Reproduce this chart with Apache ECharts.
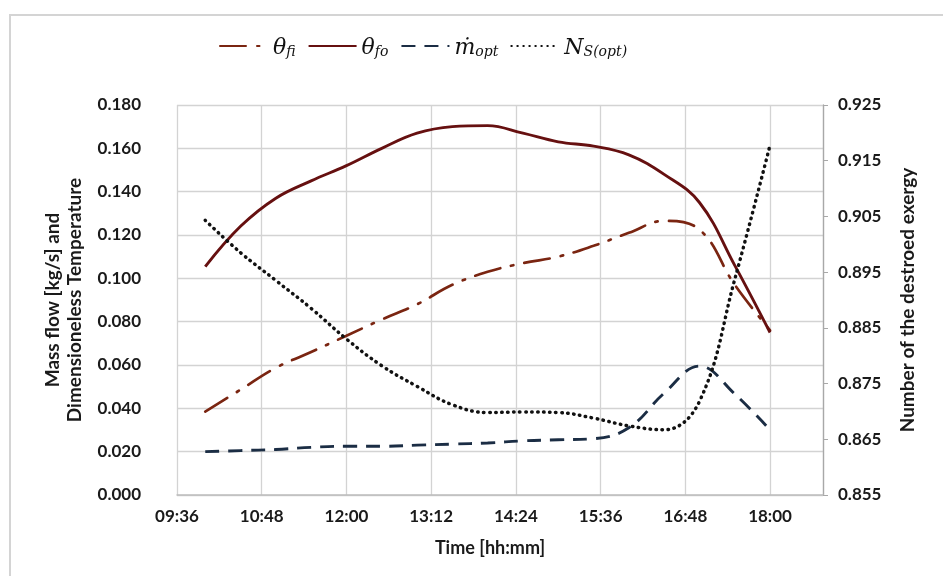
<!DOCTYPE html>
<html>
<head>
<meta charset="utf-8">
<script src="https://cdn.jsdelivr.net/npm/echarts@6/dist/echarts.min.js"></script>
<style>
  html, body { margin: 0; padding: 0; background: #ffffff; }
  #chart { width: 943px; height: 576px; }
</style>
</head>
<body>
<div id="chart"></div>
<script>
// Sampling times (every half hour, 10:00 to 18:00)
const times = ['10:00','10:30','11:00','11:30','12:00','12:30','13:00','13:30','14:00',
               '14:30','15:00','15:30','16:00','16:30','17:00','17:30','18:00'];

// Dimensionless inlet fluid temperature
const thetaFi = [0.0385,0.0486,0.0587,0.0660,0.0735,0.0810,0.0880,0.0970,0.1030,
                 0.1070,0.1100,0.1150,0.1210,0.1265,0.1225,0.0970,0.0760];
// Dimensionless outlet fluid temperature
const thetaFo = [0.1054,0.1240,0.1370,0.1450,0.1520,0.1600,0.1670,0.1700,0.1705,
                 0.1670,0.1630,0.1610,0.1570,0.1480,0.1350,0.1060,0.0750];
// Optimal mass flow [kg/s]
const mOpt = [0.0200,0.0205,0.0210,0.0220,0.0225,0.0225,0.0230,0.0235,0.0240,
              0.0250,0.0255,0.0260,0.0310,0.0470,0.0595,0.0466,0.0300];
// Number of destroyed exergy at optimum
const nsOpt = [0.9043,0.8985,0.8935,0.8885,0.8830,0.8782,0.8745,0.8712,0.8698,
               0.8699,0.8698,0.8688,0.8674,0.8667,0.8718,0.8937,0.9178];

// Axis tick settings
const timeAxisMin = '09:36';
const timeAxisMax = '18:45';
const timeTickStep = 72;          // minutes (1:12)
const leftTicks = [0.000, 0.180, 0.020];   // min, max, step
const rightTicks = [0.855, 0.925, 0.010];  // min, max, step

const seriesNames = ['θfi', 'θfo', 'ṁopt', 'NS(opt)'];

function toMin(s) {
  const p = s.split(':');
  return parseInt(p[0], 10) * 60 + parseInt(p[1], 10);
}
function fmtTime(v) {
  const h = Math.floor(v / 60), m = Math.round(v % 60);
  return String(h).padStart(2, '0') + ':' + String(m).padStart(2, '0');
}
function pairs(vals) {
  return times.map((t, i) => [toMin(t), vals[i]]);
}

const xMin = toMin(timeAxisMin);
const xMax = toMin(timeAxisMax);

const labelFont = { fontFamily: 'Lato', fontWeight: 'bold', fontSize: 17, color: '#1a1a1a' };
const titleFont = { fontFamily: 'Lato', fontWeight: 'bold', fontSize: 18, color: '#1a1a1a' };

const legendRich = {
  t: { fontFamily: 'DejaVu Serif', fontStyle: 'italic', fontSize: 22, color: '#111', lineHeight: 26, verticalAlign: 'bottom' },
  s: { fontFamily: 'DejaVu Serif', fontStyle: 'italic', fontSize: 14, color: '#111', lineHeight: 6, verticalAlign: 'bottom' }
};
const legendText = {
  'θfi': '{t|θ}{s|fi}',
  'θfo': '{t|θ}{s|fo}',
  'ṁopt': '{t|ṁ}{s|opt}',
  'NS(opt)': '{t|N}{s|S(opt)}'
};

const chart = echarts.init(document.getElementById('chart'), null, { renderer: 'canvas' });

chart.setOption({
  backgroundColor: '#ffffff',
  animation: false,
  graphic: [{
    type: 'rect',
    shape: { x: 10, y: 15, width: 1000, height: 1000 },
    style: { fill: 'none', stroke: '#d4d4d4', lineWidth: 2 },
    silent: true
  }],
  legend: {
    data: seriesNames,
    left: 214,
    top: 32,
    itemWidth: 48,
    itemHeight: 14,
    itemGap: 12,
    itemStyle: { opacity: 0, borderWidth: 0 },
    formatter: n => legendText[n],
    textStyle: { rich: legendRich }
  },
  grid: { left: 177, right: 120, top: 105, bottom: 81, containLabel: false },
  xAxis: {
    type: 'value',
    min: xMin,
    max: xMax,
    interval: timeTickStep,
    name: 'Time [hh:mm]',
    nameLocation: 'middle',
    nameGap: 44,
    nameMoveOverlap: false,
    nameTextStyle: Object.assign({}, titleFont, { padding: [0, 20, 0, 0] }),
    axisLine: { show: true, lineStyle: { color: '#bdbdbd', width: 1.5 } },
    axisTick: { show: false },
    axisLabel: Object.assign({}, labelFont, {
      margin: 13,
      formatter: v => ((v - xMin) % timeTickStep === 0 ? fmtTime(v) : '')
    }),
    splitLine: { show: true, lineStyle: { color: '#d3d3d3', width: 1.3 } }
  },
  yAxis: [{
    type: 'value',
    min: leftTicks[0],
    max: leftTicks[1],
    interval: leftTicks[2],
    position: 'left',
    name: 'Mass flow [kg/s] and\nDimensioneless Temperature',
    nameLocation: 'middle',
    nameRotate: 90,
    nameGap: 91,
    nameMoveOverlap: false,
    nameTextStyle: Object.assign({}, titleFont, { fontSize: 19, lineHeight: 22 }),
    axisLine: { show: false },
    axisTick: { show: false },
    axisLabel: Object.assign({}, labelFont, { margin: 36, formatter: v => v.toFixed(3) }),
    splitLine: { show: true, lineStyle: { color: '#d3d3d3', width: 1.3 } }
  }, {
    type: 'value',
    min: rightTicks[0],
    max: rightTicks[1],
    interval: rightTicks[2],
    position: 'right',
    name: 'Number of the destroed exergy',
    nameLocation: 'middle',
    nameRotate: 90,
    nameGap: 75,
    nameMoveOverlap: false,
    nameTextStyle: Object.assign({}, titleFont, { fontSize: 19 }),
    axisLine: { show: true, lineStyle: { color: '#a8a8a8', width: 1.3 } },
    axisTick: { show: true, inside: false, length: 5, lineStyle: { color: '#a8a8a8' } },
    axisLabel: Object.assign({}, labelFont, { margin: 15, formatter: v => v.toFixed(3) }),
    splitLine: { show: false }
  }],
  series: [{
    name: 'θfi',
    type: 'line',
    yAxisIndex: 0,
    data: pairs(thetaFi),
    smooth: 0.4,
    showSymbol: false,
    symbol: 'none',
    lineStyle: { color: '#7a2511', width: 2.7, type: [26, 11, 2.5, 11], cap: 'round' },
    itemStyle: { color: '#7a2511' },
    z: 3
  }, {
    name: 'θfo',
    type: 'line',
    yAxisIndex: 0,
    data: pairs(thetaFo),
    smooth: 0.4,
    showSymbol: false,
    symbol: 'none',
    lineStyle: { color: '#661010', width: 2.9, type: 'solid' },
    itemStyle: { color: '#661010' },
    z: 4
  }, {
    name: 'ṁopt',
    type: 'line',
    yAxisIndex: 0,
    data: pairs(mOpt),
    smooth: 0.4,
    showSymbol: false,
    symbol: 'none',
    lineStyle: { color: '#1b2d44', width: 2.9, type: [14, 9] },
    itemStyle: { color: '#1b2d44' },
    z: 3
  }, {
    name: 'NS(opt)',
    type: 'line',
    yAxisIndex: 1,
    data: pairs(nsOpt),
    smooth: 0.4,
    showSymbol: false,
    symbol: 'none',
    lineStyle: { color: '#111111', width: 3.5, type: [0.5, 5.5], cap: 'round' },
    itemStyle: { color: '#111111' },
    z: 5
  }]
});
</script>
</body>
</html>
